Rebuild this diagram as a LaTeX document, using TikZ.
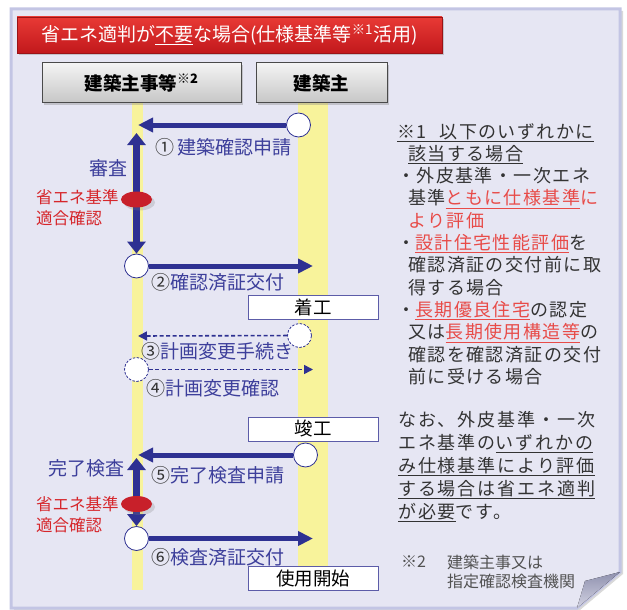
\documentclass[tikz,border=0pt]{standalone}
\usepackage{fontspec}
\setmainfont{Noto Sans CJK JP}
\newfontfamily\notefont[LetterSpace=8]{Noto Sans CJK JP}
\newfontfamily\notefontb[LetterSpace=10.5]{Noto Sans CJK JP}
\usetikzlibrary{arrows.meta,shapes.geometric,shadows}

\definecolor{panelfill}{HTML}{E6E6F3}
\definecolor{panelline}{HTML}{C3C5E4}
\definecolor{flaptop}{HTML}{8F91AE}
\definecolor{flapbot}{HTML}{D3D3E3}
\definecolor{hdrtop}{HTML}{E83A35}
\definecolor{hdrbot}{HTML}{C2181C}
\definecolor{actortop}{HTML}{F4F4F4}
\definecolor{actorbot}{HTML}{C6C6C6}
\definecolor{actorline}{HTML}{4A4A4A}
\definecolor{laneyellow}{HTML}{F8F39B}
\definecolor{flowblue}{HTML}{2E3192}
\definecolor{textblue}{HTML}{3D3F9B}
\definecolor{numgray}{HTML}{333333}
\definecolor{chkred}{HTML}{C8202A}
\definecolor{labred}{HTML}{D6262B}
\definecolor{notered}{HTML}{E84B48}
\definecolor{notegray}{HTML}{333333}
\definecolor{stageline}{HTML}{5C5CA8}

\tikzset{
  panel/.style={draw=panelline, line width=3pt, fill=panelfill,
    drop shadow={shadow xshift=3pt, shadow yshift=-2pt, opacity=.3}},
  flap/.style={top color=flaptop, bottom color=flapbot},
  lane/.style={fill=laneyellow},
  hdr/.style={top color=hdrtop, bottom color=hdrbot, draw=hdrbot!80!black,
    minimum width=425pt, minimum height=36pt, inner sep=0pt, text=white,
    font=\fontsize{19}{20}\selectfont,
    drop shadow={shadow xshift=2pt, shadow yshift=-2pt, opacity=.35}},
  actor/.style={draw=actorline, line width=1pt, top color=actortop,
    bottom color=actorbot, minimum height=40pt, inner sep=0pt,
    font=\bfseries\fontsize{18.5}{20}\selectfont,
    drop shadow={shadow xshift=2pt, shadow yshift=-2pt, opacity=.35}},
  stage/.style={draw=stageline, line width=0.8pt, fill=white,
    minimum width=130pt, minimum height=24pt, inner sep=0pt,
    font=\fontsize{18.5}{20}\selectfont},
  dot/.style={circle, draw=flowblue, line width=0.8pt, fill=white,
    minimum size=24pt, inner sep=0pt},
  dashdot/.style={dot, dash pattern=on 2.5pt off 1.5pt},
  flow/.style={draw=flowblue, line width=5pt,
    -{Triangle[length=15pt,width=14pt]}},
  plan/.style={draw=flowblue, line width=1.6pt, dash pattern=on 4pt off 2.5pt,
    -{Triangle[length=9pt,width=9pt]}},
  check/.style={draw=flowblue, line width=6.5pt,
    {Triangle[length=12pt,width=18pt]}-{Triangle[length=12pt,width=18pt]}},
  chk/.style={ellipse, fill=chkred, minimum width=31pt, minimum height=16pt,
    inner sep=0pt, drop shadow={shadow xshift=3pt, shadow yshift=-3pt, opacity=.25}},
  lab/.style={text=textblue, font=\fontsize{19}{21}\selectfont, inner sep=0pt},
  redlab/.style={text=labred, font=\fontsize{16.5}{21}\selectfont, inner sep=0pt,
    align=left, anchor=west},
  note/.style={text=notegray, inner sep=0pt, align=left, anchor=north west}
}
\newcommand{\numc}[1]{\textcolor{numgray}{#1}}

\begin{document}
\begin{tikzpicture}[x=1pt, y=-1pt]
\useasboundingbox (0,0) rectangle (627,610);

% Panel with folded corner
\draw[panel] (11,9) -- (620,9) -- (620,572) -- (577,608) -- (11,608) -- cycle;
\fill[flap] (620,572) -- (585,581) -- (577,608) -- cycle;

% Life lines
\fill[lane] (132,103) rectangle (143,590);
\fill[lane] (298,103) rectangle (328,578);

% Title and actors
\node[hdr] (title) at (229.5,35)
  {省エネ適判が\underline{不要}な場合(仕様基準等\textsuperscript{※1}活用)};
\node[actor, minimum width=199pt] (office) at (141.5,83) {建築主事等\textsuperscript{※2}};
\node[actor, minimum width=131pt] (owner) at (321.5,83) {建築主};

% Construction stages
\node[stage] (start) at (313,307) {着工};
\node[stage] (finish) at (313,429) {竣工};
\node[stage] (use) at (313,578) {使用開始};

% Circles
\node[dot] (c1) at (298.5,125) {};
\node[dot] (c2) at (136.5,266) {};
\node[dashdot] (c3) at (299.5,335.5) {};
\node[dashdot] (c4) at (136.5,369.5) {};
\node[dot] (c5) at (305.5,455) {};
\node[dot] (c6) at (136.5,538.5) {};

% Arrow ends
\coordinate (t1) at (138,125);
\coordinate (t2) at (313,266);
\coordinate (t3) at (138,336);
\coordinate (t4) at (313,369.5);
\coordinate (t5) at (138,455);
\coordinate (t6) at (313,538.5);
\coordinate (v1) at (136.5,133);
\coordinate (v2) at (136.5,458);

% Connect the nodes
\draw[flow] (c1) -- (t1);
\draw[flow] (c2) -- (t2);
\draw[plan] (c3) -- (t3);
\draw[plan] (c4) -- (t4);
\draw[flow] (c5) -- (t5);
\draw[flow] (c6) -- (t6);
\draw[check] (c2) -- (v1);
\draw[check] (c6) -- (v2);

\node[chk] (e1) at (136.5,199.5) {};
\node[chk] (e2) at (136.5,504) {};

% Labels
\node[lab, anchor=west] (l1) at (155,147) {\numc{①}\hspace{3pt}建築確認申請};
\node[lab, anchor=west] (l2) at (151,282) {\numc{②}確認済証交付};
\node[lab, anchor=west] (l3) at (141,351) {\numc{③}計画変更手続き};
\node[lab, anchor=west] (l4) at (146,388) {\numc{④}計画変更確認};
\node[lab, anchor=west] (l5) at (151,475) {\numc{⑤}完了検査申請};
\node[lab, anchor=west] (l6) at (151,557) {\numc{⑥}検査済証交付};
\node[lab, anchor=east] (rev) at (128,168) {審査};
\node[lab, anchor=east] (insp) at (125,468) {完了検査};
\node[redlab] (r1) at (36,207.5) {省エネ基準\\適合確認};
\node[redlab] (r2) at (36,514.5) {省エネ基準\\適合確認};

% Notes
\node[note, font=\notefont\fontsize{18}{22.3}\selectfont] (n1) at (397,123)
  {\underline{※1\hspace{13pt}以下のいずれかに}\\
   \hspace*{11pt}\underline{該当する場合}\\
   ・外皮基準・一次エネ\\
   \hspace*{11pt}基準\textcolor{notered}{\underline{ともに仕様基準}に}\\
   \hspace*{11pt}\textcolor{notered}{より評価}\\
   ・\textcolor{notered}{\underline{設計住宅性能評価}}を\\
   \hspace*{11pt}確認済証の交付前に取\\
   \hspace*{11pt}得する場合\\
   ・\textcolor{notered}{\underline{長期優良住宅}}の認定\\
   \hspace*{11pt}又は\textcolor{notered}{\underline{長期使用構造等}}の\\
   \hspace*{11pt}確認を確認済証の交付\\
   \hspace*{11pt}前に受ける場合};
\node[note, font=\notefontb\fontsize{18}{23}\selectfont] (n2) at (398,411)
  {なお、外皮基準・一次\\
   エネ基準の\underline{いずれかの}\\
   \underline{み仕様基準により評価}\\
   \underline{する場合は省エネ適判}\\
   \underline{が必要}です。};
\node[note, anchor=west, font=\fontsize{16}{19}\selectfont, text=notegray!85] (n3) at (401,562) {※2};
\node[note, anchor=west, font=\fontsize{16}{19}\selectfont, text=notegray!85] (n4) at (447,571.5)
  {建築主事又は\\指定確認検査機関};
\end{tikzpicture}
\end{document}
